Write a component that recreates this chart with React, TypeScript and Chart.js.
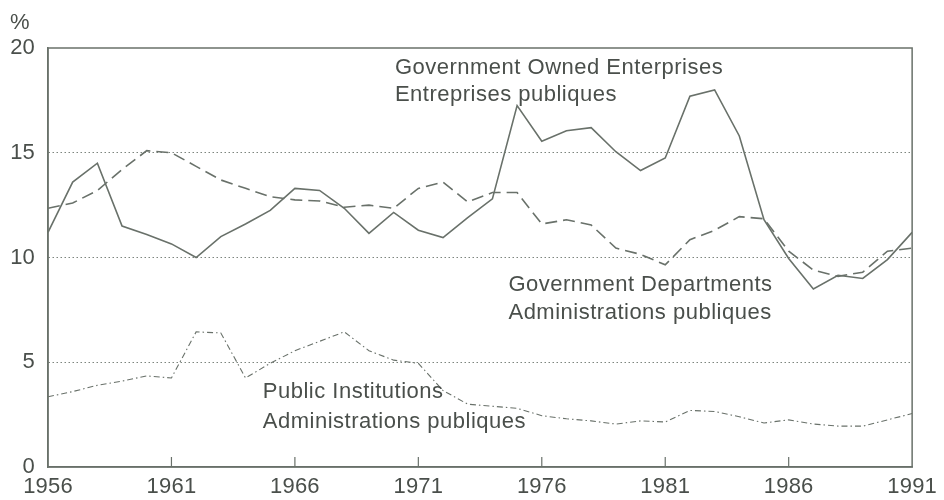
import React, { useEffect, useRef } from 'react';
import { Chart, registerables } from 'chart.js';

Chart.register(...registerables);

const years = [
  1956, 1957, 1958, 1959, 1960, 1961, 1962, 1963, 1964, 1965, 1966, 1967,
  1968, 1969, 1970, 1971, 1972, 1973, 1974, 1975, 1976, 1977, 1978, 1979,
  1980, 1981, 1982, 1983, 1984, 1985, 1986, 1987, 1988, 1989, 1990, 1991,
];

// Government Owned Enterprises / Entreprises publiques (solid)
const enterprises = [
  11.2, 13.6, 14.5, 11.5, 11.1, 10.65, 10.0, 11.0, 11.6, 12.25, 13.3, 13.2,
  12.35, 11.15, 12.15, 11.3, 10.95, 11.9, 12.8, 17.25, 15.55, 16.05, 16.2, 15.05,
  14.15, 14.75, 17.7, 18.0, 15.8, 11.8, 9.95, 8.5, 9.15, 9.0, 9.9, 11.2,
];

// Government Departments / Administrations publiques (dashed)
const departments = [
  12.35, 12.6, 13.2, 14.2, 15.1, 15.0, 14.35, 13.7, 13.3, 12.9, 12.75, 12.7,
  12.4, 12.5, 12.35, 13.3, 13.6, 12.65, 13.1, 13.1, 11.6, 11.8, 11.55, 10.45,
  10.15, 9.65, 10.85, 11.3, 11.95, 11.85, 10.3, 9.4, 9.1, 9.3, 10.3, 10.45,
];

// Public Institutions / Administrations publiques (dash-dot)
const institutions = [
  3.35, 3.6, 3.9, 4.1, 4.35, 4.25, 6.45, 6.4, 4.25, 4.95, 5.55, 6.0,
  6.45, 5.55, 5.1, 4.95, 3.65, 3.0, 2.9, 2.8, 2.45, 2.3, 2.2, 2.05,
  2.2, 2.15, 2.7, 2.65, 2.4, 2.1, 2.25, 2.05, 1.95, 1.95, 2.25, 2.55,
];

const yTickValues = [0, 5, 10, 15, 20];
const xTickValues = [1956, 1961, 1966, 1971, 1976, 1981, 1986, 1991];
const unitLabel = '%';

const labelEnterprises = ['Government Owned Enterprises', 'Entreprises publiques'];
const labelDepartments = ['Government Departments', 'Administrations publiques'];
const labelInstitutions = ['Public Institutions', 'Administrations publiques'];

const LINE = '#69716a';
const GRID = '#7d857e';
const TEXT = '#4a4f4b';
const FONT = "'Liberation Sans', Arial, Helvetica, sans-serif";

const toPoints = (vals: number[]) => years.map((y, i) => ({ x: y, y: vals[i] }));

export default function App() {
  const ref = useRef<HTMLCanvasElement>(null);

  useEffect(() => {
    document.body.style.margin = '0';
    const canvas = ref.current;
    if (!canvas) return;

    const decor = {
      id: 'decor',
      beforeUpdate(c: any) {
        c.ctx.letterSpacing = '0.2px';
      },
      beforeDraw(c: any) {
        c.ctx.letterSpacing = '0.2px';
        const { ctx, width, height } = c;
        ctx.save();
        ctx.fillStyle = '#ffffff';
        ctx.fillRect(0, 0, width, height);
        ctx.restore();
      },
      afterDraw(c: any) {
        const { ctx, chartArea } = c;
        const xs = c.scales.x;
        const ys = c.scales.y;
        ctx.save();
        // frame
        ctx.strokeStyle = LINE;
        ctx.lineWidth = 1.5;
        ctx.strokeRect(chartArea.left, chartArea.top, chartArea.right - chartArea.left, chartArea.bottom - chartArea.top);
        // inward tick marks on x axis
        ctx.lineWidth = 1.2;
        xTickValues.forEach((v) => {
          if (v === xs.min || v === xs.max) return;
          const px = xs.getPixelForValue(v);
          ctx.beginPath();
          ctx.moveTo(px, chartArea.bottom);
          ctx.lineTo(px, chartArea.bottom - 10);
          ctx.stroke();
        });
        // unit label
        ctx.fillStyle = TEXT;
        ctx.font = `22px ${FONT}`;
        (ctx as any).letterSpacing = '0.2px';
        ctx.textAlign = 'left';
        ctx.textBaseline = 'middle';
        ctx.fillText(unitLabel, 10, chartArea.top - 25);
        // series labels
        ctx.font = `22px ${FONT}`;
        (ctx as any).letterSpacing = '0.5px';
        const drawLabel = (lines: string[], xv: number, yv: number, yv2: number) => {
          ctx.fillText(lines[0], xs.getPixelForValue(xv), ys.getPixelForValue(yv));
          ctx.fillText(lines[1], xs.getPixelForValue(xv), ys.getPixelForValue(yv2));
        };
        drawLabel(labelEnterprises, 1970.05, 19.03, 17.74);
        drawLabel(labelDepartments, 1974.65, 8.69, 7.35);
        drawLabel(labelInstitutions, 1964.7, 3.57, 2.14);
        ctx.restore();
      },
    };

    const chart = new Chart(canvas, {
      type: 'line',
      data: {
        datasets: [
          {
            label: labelEnterprises[0],
            data: toPoints(enterprises),
            borderColor: LINE,
            borderWidth: 1.6,
            pointRadius: 0,
            tension: 0,
          },
          {
            label: labelDepartments[0],
            data: toPoints(departments),
            borderColor: LINE,
            borderWidth: 1.6,
            borderDash: [12, 6],
            pointRadius: 0,
            tension: 0,
          },
          {
            label: labelInstitutions[0],
            data: toPoints(institutions),
            borderColor: LINE,
            borderWidth: 1.1,
            borderDash: [6, 3, 1.5, 3],
            pointRadius: 0,
            tension: 0,
          },
        ],
      },
      options: {
        responsive: false,
        animation: false,
        events: [],
        layout: { padding: { top: 48, right: 25, left: 0, bottom: 0 } },
        plugins: {
          legend: { display: false },
          tooltip: { enabled: false },
          title: { display: false },
        },
        scales: {
          x: {
            type: 'linear',
            min: 1956,
            max: 1991,
            afterBuildTicks: (s: any) => {
              s.ticks = xTickValues.map((v) => ({ value: v }));
            },
            afterFit: (s: any) => {
              s.height = 33;
            },
            ticks: {
              color: TEXT,
              font: { family: FONT, size: 22 },
              padding: 7,
              maxRotation: 0,
              autoSkip: false,
              callback: (v: any) => String(v),
            },
            grid: { display: false, drawTicks: false },
            border: { display: true, color: LINE, width: 1.5 },
          },
          y: {
            type: 'linear',
            min: 0,
            max: 20,
            afterBuildTicks: (s: any) => {
              s.ticks = yTickValues.map((v) => ({ value: v }));
            },
            afterFit: (s: any) => {
              s.width = 48;
            },
            ticks: {
              color: TEXT,
              font: { family: FONT, size: 22 },
              padding: 13,
              callback: (v: any) => String(v),
            },
            grid: {
              drawTicks: false,
              lineWidth: 1,
              color: (ctx: any) =>
                ctx.tick && (ctx.tick.value === 0 || ctx.tick.value === 20) ? 'rgba(0,0,0,0)' : GRID,
            },
            border: { display: true, color: LINE, width: 1.5, dash: [1.5, 2.5] },
          },
        },
      },
      plugins: [decor],
    } as any);

    return () => chart.destroy();
  }, []);

  return (
    <div style={{ width: 944, height: 500, position: 'relative', background: '#fff' }}>
      <canvas ref={ref} width={944} height={500} />
    </div>
  );
}
